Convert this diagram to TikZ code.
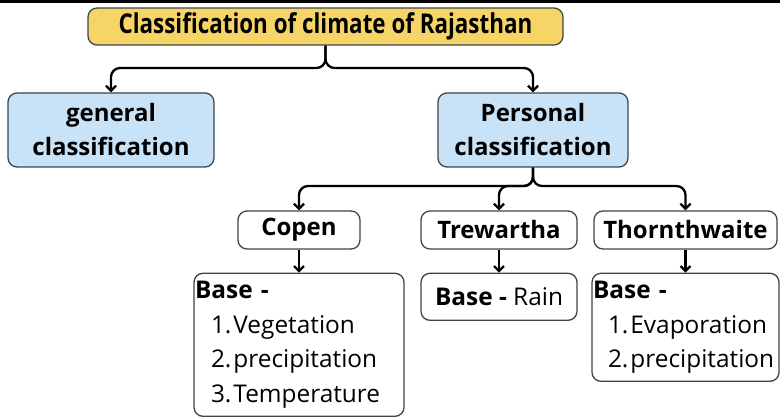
\documentclass[tikz,border=0pt]{standalone}
\usepackage{fontspec}
\setmainfont{Open Sans}
\newfontfamily\titlefont[FakeStretch=0.82]{Open Sans}
\usetikzlibrary{positioning,arrows.meta}
\definecolor{titlefill}{HTML}{F7D466}
\definecolor{classfill}{HTML}{C8E2F8}
\definecolor{boxline}{HTML}{3C4650}
\hyphenpenalty=10000

\begin{document}
\begin{tikzpicture}[x=1pt,y=-1pt]
	\useasboundingbox (0,0) rectangle (780,417);
	
	\tikzset{
		box/.style={draw=boxline, line width=1.3pt, rounded corners=9pt,
			inner sep=2pt, align=center,
			font=\fontsize{24}{34}\selectfont\bfseries},
		title box/.style={box, fill=titlefill, minimum width=475pt,
			minimum height=37pt, font=\titlefont\fontsize{27.3}{30}\selectfont\bfseries},
		class box/.style={box, fill=classfill, minimum width=#1, minimum height=74pt},
		name box/.style={box, fill=white, minimum width=#1, minimum height=38pt},
		base box/.style={box, fill=white, align=left, inner xsep=1pt, text width=#1,
			font=\fontsize{24.4}{34.5}\selectfont},
		link/.style={line width=2.3pt, rounded corners=9pt,
			-{Straight Barb[length=5pt,width=10pt]}}
	}
	
	% strip at the top
	\fill (0,0) rectangle (780,3);
	
	\node[title box] (title) at (325.5,26.5) {Classification of climate of Rajasthan};
	
	\node[class box=206pt] (general) at (111,130) {general\\classification};
	\node[class box=190pt] (personal) at (533,130) {Personal\\classification};
	
	\node[name box=122pt] (copen) at (299,230) {Copen};
	\node[name box=156pt] (trewartha) at (499,230) {Trewartha};
	\node[name box=183pt] (thornthwaite) at (685.5,230) {Thornthwaite};
	
	\node[base box=208pt, minimum height=143pt, below=23pt of copen] (copenbase)
		{\textbf{Base -}\\
		 \hspace*{16pt}1.\hspace{2pt}Vegetation\\
		 \hspace*{16pt}2.\hspace{2pt}precipitation\\
		 \hspace*{16pt}3.\hspace{2pt}Temperature};
	\node[name box=156pt, minimum height=47pt, below=23pt of trewartha,
		font=\fontsize{24.4}{34}\selectfont] (trewbase) {\textbf{Base -} Rain};
	\node[base box=185pt, minimum height=108pt, below=23pt of thornthwaite] (thornbase)
		{\textbf{Base -}\\
		 \hspace*{15pt}1.\hspace{2pt}Evaporation\\
		 \hspace*{15pt}2.\hspace{2pt}precipitation};
	
	% forks
	\coordinate (fork1) at (title.south |- 0,68);
	\coordinate (fork2) at (personal.south |- 0,186);
	
	\draw[link] (title.south) -- (fork1) -| (general.north);
	\draw[link] (title.south) -- (fork1) -| (personal.north);
	
	\draw[link] (personal.south) -- (fork2) -| (copen.north);
	\draw[link] (personal.south) -- (fork2) -| (trewartha.north);
	\draw[link] (personal.south) -- (fork2) -| (thornthwaite.north);
	
	\draw[link] (copen) -- (copenbase);
	\draw[link] (trewartha) -- (trewbase);
	\draw[link] (thornthwaite) -- (thornbase);
	
\end{tikzpicture}
\end{document}
